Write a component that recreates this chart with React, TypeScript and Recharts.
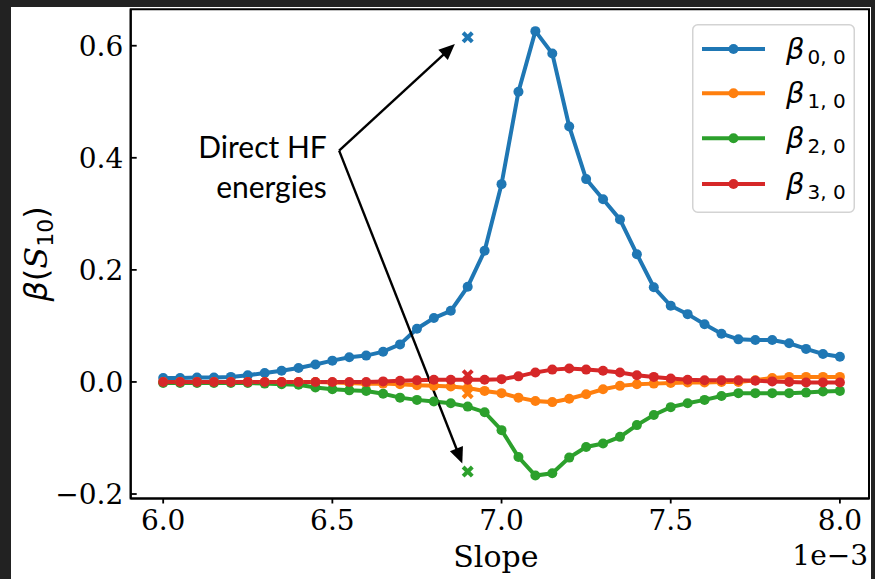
import React from 'react';
import {
  ComposedChart,
  Line,
  Scatter,
  XAxis,
  YAxis,
  ReferenceLine,
  ReferenceDot,
  ReferenceArea,
  Legend,
} from 'recharts';

// ---------- data ----------
const slopeX = [
  6.0, 6.05, 6.1, 6.15, 6.2, 6.25, 6.3, 6.35, 6.4, 6.45,
  6.5, 6.55, 6.6, 6.65, 6.7, 6.75, 6.8, 6.85, 6.9, 6.95,
  7.0, 7.05, 7.1, 7.15, 7.2, 7.25, 7.3, 7.35, 7.4, 7.45,
  7.5, 7.55, 7.6, 7.65, 7.7, 7.75, 7.8, 7.85, 7.9, 7.95, 8.0,
];

const beta00 = [
  0.007, 0.007, 0.008, 0.008, 0.009, 0.012, 0.016, 0.02, 0.025, 0.031,
  0.038, 0.044, 0.047, 0.054, 0.067, 0.095, 0.114, 0.127, 0.17, 0.234,
  0.353, 0.518, 0.626, 0.586, 0.456, 0.362, 0.326, 0.29, 0.228, 0.169,
  0.136, 0.121, 0.103, 0.086, 0.076, 0.075, 0.075, 0.069, 0.059, 0.05, 0.045,
];

const beta10 = [
  0, 0, 0, 0, 0, 0, 0, 0, 0, 0,
  -0.001, -0.002, -0.003, -0.003, -0.004, -0.006, -0.007, -0.008, -0.011, -0.016,
  -0.02, -0.028, -0.034, -0.036, -0.03, -0.022, -0.013, -0.007, -0.004, -0.003,
  -0.002, -0.001, -0.001, 0.0, 0.0, 0.003, 0.007, 0.009, 0.009, 0.009, 0.009,
];

const beta20 = [
  -0.002, -0.002, -0.002, -0.002, -0.002, -0.002, -0.003, -0.004, -0.005, -0.01,
  -0.013, -0.015, -0.016, -0.021, -0.028, -0.032, -0.035, -0.038, -0.044, -0.054,
  -0.086, -0.134, -0.167, -0.163, -0.135, -0.116, -0.11, -0.098, -0.077, -0.059,
  -0.045, -0.038, -0.032, -0.025, -0.02, -0.02, -0.02, -0.02, -0.019, -0.017, -0.016,
];

const beta30 = [
  0, 0, 0, 0, 0, 0, 0, 0, 0, 0,
  0, 0, 0, 0.001, 0.002, 0.003, 0.004, 0.004, 0.004, 0.004,
  0.005, 0.01, 0.017, 0.022, 0.024, 0.022, 0.02, 0.017, 0.012, 0.009,
  0.006, 0.004, 0.003, 0.003, 0.003, 0.002, 0.001, 0.0, -0.001, -0.001, -0.001,
];

const seriesKeys = ['b0', 'b1', 'b2', 'b3'];
const seriesSubscripts = ['0, 0', '1, 0', '2, 0', '3, 0'];
const seriesColors = ['#1f77b4', '#ff7f0e', '#2ca02c', '#d62728'];

// direct HF energies (cross markers)
const hfSlope = 6.9;
const hfValues = [0.615, -0.02, -0.16, 0.012];

const xTicks = [6.0, 6.5, 7.0, 7.5, 8.0];
const yTicks = [-0.2, 0.0, 0.2, 0.4, 0.6];
const xDomain = [5.904, 8.086];
const yDomain = [-0.208, 0.665];

const annotationLines = ['Direct HF', 'energies'];
const annotationAnchor = { x: 6.4835, y: 0.4175 };
const arrowFrom = { x: 6.52, y: 0.4127 };
const arrowTips = [
  { x: 6.862, y: 0.603 },
  { x: 6.884, y: -0.1455 },
];

const seriesArrays = [beta00, beta10, beta20, beta30];
const tableData = slopeX.map((x, i) => {
  const row: any = { x };
  seriesKeys.forEach((k, s) => {
    row[k] = seriesArrays[s][i];
  });
  return row;
});

// ---------- helpers ----------
const fmt = (v: number) =>
  v < 0 ? '\u2212' + Math.abs(v).toFixed(1) : v.toFixed(1);

const SERIF = 'DejaVu Serif';

const CrossShape = (props: any) => {
  const { cx, cy, fill } = props;
  if (cx == null || cy == null) return null;
  return (
    <g transform={`translate(${cx},${cy}) rotate(45)`}>
      <rect x={-6.5} y={-2} width={13} height={4} fill={fill} />
      <rect x={-2} y={-6.5} width={4} height={13} fill={fill} />
    </g>
  );
};

const ArrowShape = (p: any) => {
  const { x1, y1, x2, y2 } = p;
  const dx = x2 - x1;
  const dy = y2 - y1;
  const len = Math.hypot(dx, dy) || 1;
  const ux = dx / len;
  const uy = dy / len;
  const headLen = 16;
  const headW = 7;
  const bx = x2 - ux * headLen;
  const by = y2 - uy * headLen;
  return (
    <g>
      <line x1={x1} y1={y1} x2={bx + ux * 2} y2={by + uy * 2} stroke="#000" strokeWidth={2.4} />
      <polygon
        points={`${x2},${y2} ${bx - uy * headW},${by + ux * headW} ${bx + uy * headW},${by - ux * headW}`}
        fill="#000"
      />
    </g>
  );
};

const AnnotationShape = (p: any) => {
  const { cx, cy } = p;
  return (
    <text
      x={cx}
      y={cy}
      textAnchor="end"
      fontFamily="Lato"
      fontSize={30}
      fill="#000"
    >
      {annotationLines.map((t, i) => (
        <tspan key={i} x={cx} dy={i === 0 ? 10 : 40}>
          {t}
        </tspan>
      ))}
    </text>
  );
};

const XLabel = (props: any) => {
  const vb = props.viewBox || {};
  const { x = 0, y = 0, width = 0 } = vb;
  return (
    <g>
      <text x={x + width / 2 - 4} y={y + 68} textAnchor="middle" fontFamily={SERIF} fontSize={30} fill="#000">
        Slope
      </text>
      <text x={x + width - 1} y={y + 66} textAnchor="end" fontFamily={SERIF} fontSize={28} fill="#000">
        1e{'\u2212'}3
      </text>
    </g>
  );
};

const YLabel = (props: any) => {
  const vb = props.viewBox || {};
  const { y = 0, height = 0 } = vb;
  const cx = 47;
  const cy = y + height / 2;
  return (
    <text
      x={cx}
      y={cy}
      transform={`rotate(-90, ${cx}, ${cy})`}
      textAnchor="middle"
      fontFamily="DejaVu Sans"
      fontSize={32}
      fill="#000"
    >
      <tspan fontStyle="italic">β</tspan>
      <tspan>(</tspan>
      <tspan fontStyle="italic" fontFamily={SERIF}>S</tspan>
      <tspan fontSize={22} dy={6}>10</tspan>
      <tspan dy={-6}>)</tspan>
    </text>
  );
};

const LegendBox = () => {
  const rows = [25, 69.3, 114.3, 160];
  return (
    <svg width={164} height={190} style={{ display: 'block' }}>
      <rect x={0.75} y={0.75} width={161.5} height={187.5} rx={5} ry={5}
        fill="#fff" fillOpacity={0.8} stroke="#d3d3d3" strokeWidth={1.5} />
      {seriesKeys.map((k, i) => (
        <g key={k}>
          <line x1={10} x2={73} y1={rows[i]} y2={rows[i]} stroke={seriesColors[i]} strokeWidth={4} />
          <circle cx={41.5} cy={rows[i]} r={5} fill={seriesColors[i]} />
          <text x={94} y={rows[i] + 10} fontFamily="DejaVu Sans" fontSize={29} fill="#000">
            <tspan fontStyle="italic">β</tspan>
            <tspan fontSize={20} dx={3} dy={5}>{seriesSubscripts[i]}</tspan>
          </text>
        </g>
      ))}
    </svg>
  );
};

export default function App() {
  return (
    <div style={{ position: 'absolute', left: 0, top: 0, width: 875, height: 579, background: '#222222', overflow: 'hidden' }}>
      <div style={{ position: 'absolute', left: 11, top: 7, width: 860, height: 572, background: '#ffffff' }} />
      <div style={{ position: 'absolute', left: 0, top: 0 }}>
        <ComposedChart
          width={875}
          height={579}
          data={tableData}
          margin={{ top: 9.3, right: 6, bottom: 0, left: 30.7 }}
        >
          <XAxis
            dataKey="x"
            type="number"
            domain={xDomain}
            allowDataOverflow
            ticks={xTicks}
            interval={0}
            tickFormatter={fmt}
            height={80.5}
            tickSize={5}
            tickMargin={7}
            axisLine={{ stroke: '#000', strokeWidth: 2 }}
            tickLine={{ stroke: '#000', strokeWidth: 1.8 }}
            tick={{ fill: '#000', fontSize: 28, fontFamily: SERIF }}
            label={{ content: XLabel }}
          />
          <YAxis
            type="number"
            domain={yDomain}
            allowDataOverflow
            ticks={yTicks}
            interval={0}
            tickFormatter={fmt}
            width={100}
            tickSize={-6}
            tickMargin={13.4}
            axisLine={{ stroke: '#000', strokeWidth: 2 }}
            tickLine={{ stroke: '#000', strokeWidth: 1.8 }}
            tick={{ fill: '#000', fontSize: 28, fontFamily: SERIF }}
            label={{ content: YLabel }}
          />
          <ReferenceArea
            x1={xDomain[0]}
            x2={xDomain[1]}
            y1={yDomain[0]}
            y2={yDomain[1]}
            fill="none"
            fillOpacity={0}
            stroke="#000"
            strokeWidth={2}
            strokeOpacity={1}
            ifOverflow="visible"
          />
          {seriesKeys.map((k, i) => (
            <Line
              key={k}
              dataKey={k}
              type="linear"
              stroke={seriesColors[i]}
              strokeWidth={4}
              dot={{ r: 5, fill: seriesColors[i], stroke: seriesColors[i], strokeWidth: 0 }}
              activeDot={false}
              isAnimationActive={false}
            />
          ))}
          {seriesKeys.map((k, i) => (
            <Scatter
              key={'hf' + k}
              data={[{ x: hfSlope, v: hfValues[i] }]}
              dataKey="v"
              fill={seriesColors[i]}
              shape={CrossShape}
              isAnimationActive={false}
            />
          ))}
          {arrowTips.map((tip, i) => (
            <ReferenceLine
              key={'arrow' + i}
              segment={[arrowFrom, tip]}
              stroke="#000"
              strokeWidth={2.4}
              ifOverflow="visible"
              shape={ArrowShape}
            />
          ))}
          <ReferenceDot
            x={annotationAnchor.x}
            y={annotationAnchor.y}
            r={0}
            ifOverflow="visible"
            shape={AnnotationShape}
          />
          <Legend
            layout="vertical"
            align="center"
            verticalAlign="middle"
            wrapperStyle={{ left: 692, top: 24, width: 164, height: 190 }}
            content={LegendBox}
          />
        </ComposedChart>
      </div>
    </div>
  );
}
